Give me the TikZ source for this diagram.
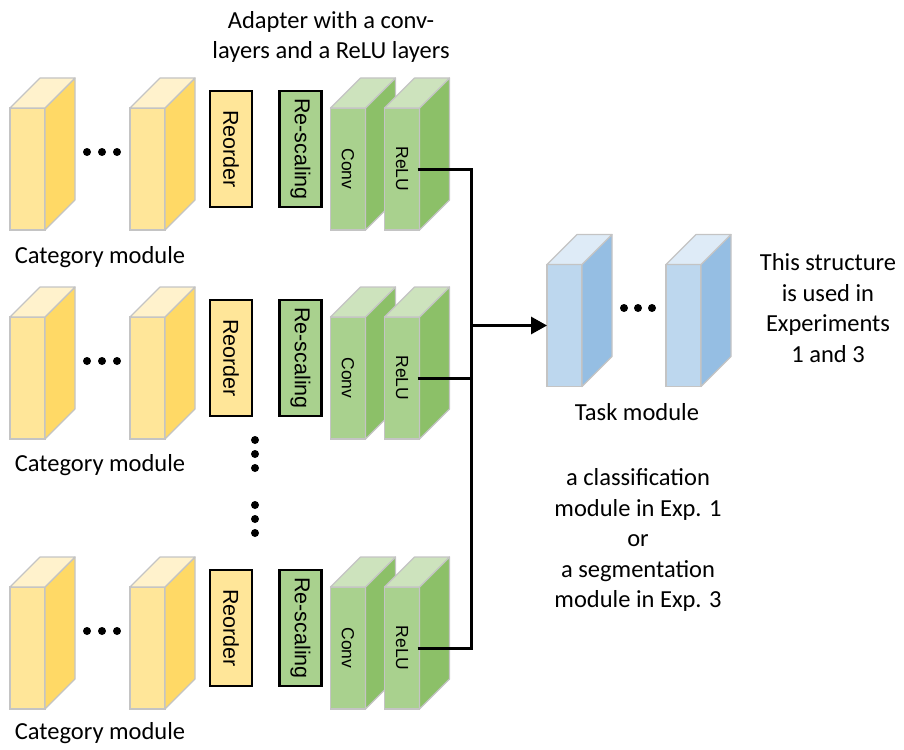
\documentclass[tikz,border=0pt]{standalone}
\usepackage{fontspec}
\usepackage{graphicx}
\setmainfont{Carlito}
\newfontfamily\arialf{Liberation Sans}
\usetikzlibrary{arrows.meta}
\definecolor{yfront}{HTML}{FFE699}
\definecolor{yside}{HTML}{FFD966}
\definecolor{ytop}{HTML}{FFF2CC}
\definecolor{gfront}{HTML}{A9D18E}
\definecolor{gside}{HTML}{8CC068}
\definecolor{gtop}{HTML}{CDE3BD}
\definecolor{bfront}{HTML}{BDD7EE}
\definecolor{bside}{HTML}{95BEE3}
\definecolor{btop}{HTML}{DEEBF7}
\definecolor{edge}{HTML}{C4C4C4}
\tikzset{
  front/.style={rectangle,minimum width=35pt,minimum height=122pt,inner sep=0pt,outer sep=0pt,draw=edge,line width=1.2pt},
  face/.style={draw=edge,line width=1.2pt,line join=round},
  opbox/.style={rectangle,minimum width=42pt,minimum height=116pt,inner sep=0pt,draw=black,line width=2.2pt,font=\arialf\fontsize{21.5}{24}\selectfont},
  lbl/.style={font=\fontsize{24.5}{30.5}\selectfont,align=center,inner sep=0pt},
  conn/.style={line width=3pt,line join=miter},
  dot/.style={fill=black}
}
\newcommand\blk[7]{%
  \node[front,fill=#4] (#1) at (#2,#3) {\rotatebox{-90}{#7}};
  \filldraw[face,fill=#5] (#1.north east) -- ++(30,-30) -- ++(0,122) -- (#1.south east) -- cycle;
  \filldraw[face,fill=#6] (#1.north west) -- ++(30,-30) -- ++(35,0) -- (#1.north east) -- cycle;
}
\begin{document}
\begin{tikzpicture}[x=1pt,y=-1pt]
\useasboundingbox (0,0) rectangle (904,749);
\node[lbl] (title) at (331,37) {Adapter with a conv-\\layers and a ReLU layers};
\foreach \i/\Y/\L in {1/169/88,2/378/87,3/648/85}{
  \blk{ya\i}{27.5}{\Y}{yfront}{yside}{ytop}{}
  \blk{yb\i}{147.5}{\Y}{yfront}{yside}{ytop}{}
  \fill[dot] (87,\Y-17) circle (4pt) (102,\Y-17) circle (4pt) (117,\Y-17) circle (4pt);
  \node[opbox,fill=yfront] (ro\i) at (231,\Y-20) {\rotatebox{-90}{Reorder}};
  \node[opbox,fill=gfront] (rs\i) at (300.5,\Y-20) {\rotatebox{-90}{Re-scaling}};
  \blk{cv\i}{348}{\Y}{gfront}{gside}{gtop}{\arialf\fontsize{17.5}{20}\selectfont Conv}
  \blk{rl\i}{402}{\Y}{gfront}{gside}{gtop}{\arialf\fontsize{17.5}{20}\selectfont ReLU}
  \node[lbl] (cat\i) at (100,\Y+\L) {Category module};
}
\foreach \y in {440,454,468,505,519,533}{\fill[dot] (255,\y) circle (4pt);}
\blk{t1}{564.5}{325.5}{bfront}{bside}{btop}{}
\blk{t2}{683.5}{325.5}{bfront}{bside}{btop}{}
\fill[dot] (624,308) circle (4pt) (638,308) circle (4pt) (652,308) circle (4pt);
\node[lbl] (task) at (637,412) {Task module};
\node[lbl] (note) at (828,308) {This structure\\is used in\\Experiments\\1 and 3};
\node[lbl] (desc) at (638,540) {a classification\\module in Exp. 1\\or\\a segmentation\\module in Exp. 3};
\coordinate (j) at (471,325.5);
\draw[conn] ([xshift=-2pt]rl1.east) -| (j);
\draw[conn] ([xshift=-2pt]rl3.east) -| (j);
\draw[conn] ([xshift=-2pt]rl2.east) -- (rl2.east -| j);
\draw[conn,-{Triangle[length=16pt,width=17pt]}] (j) -- (t1.west);
\end{tikzpicture}
\end{document}
